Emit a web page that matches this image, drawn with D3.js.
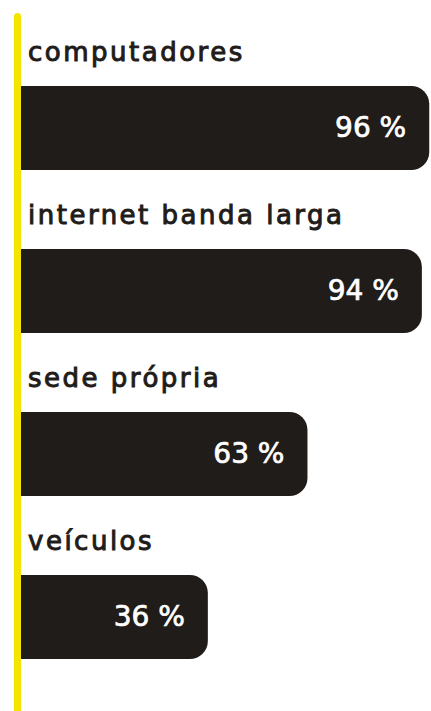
<!DOCTYPE html>
<html lang="pt">
<head>
    <meta charset="UTF-8">
    <title>Infraestrutura</title>
    <script src="https://cdn.jsdelivr.net/npm/d3@7/dist/d3.min.js"></script>
    <style>
        body { margin: 0; background: #fff; }
    </style>
</head>
<body>
    <script>
        // data
        var categories = ["computadores", "internet banda larga", "sede própria", "veículos"];
        var values = [96, 94, 63, 36];
        var valueLabels = ["96 %", "94 %", "63 %", "36 %"];

        var w = 431;
        var h = 711;
        var left = 21;      // bars start right behind the yellow rule
        var barH = 84;
        var r = 18;
        var ink = "#1f1c1a";

        var svg = d3.select("body")
                    .append("svg")
                    .attr("width", w)
                    .attr("height", h);

        // one row = label + bar
        var yScale = d3.scaleBand()
            .domain(categories)
            .range([36, 36 + 163 * categories.length]);

        // bars do not start at zero width in the original
        var xScale = d3.scaleLinear()
            .domain([0, 100])
            .range([75, 444]);

        // right-rounded bar path
        function barPath(x0, y0, x1, hgt) {
            var rr = Math.min(r, (x1 - x0) / 2, hgt / 2);
            return "M" + x0 + "," + y0 +
                   "H" + (x1 - rr) +
                   "A" + rr + "," + rr + " 0 0 1 " + x1 + "," + (y0 + rr) +
                   "V" + (y0 + hgt - rr) +
                   "A" + rr + "," + rr + " 0 0 1 " + (x1 - rr) + "," + (y0 + hgt) +
                   "H" + x0 + "Z";
        }

        var rows = svg.selectAll("g.row")
            .data(categories)
            .enter()
            .append("g")
            .attr("class", "row")
            .attr("transform", function(d) { return "translate(0," + yScale(d) + ")"; });

        rows.append("text")
            .attr("x", 28)
            .attr("y", 25)
            .attr("font-family", "DejaVu Sans")
            .attr("font-size", 26)
            .attr("letter-spacing", 2.5)
            .attr("fill", ink)
            .attr("stroke", ink)
            .attr("stroke-width", 1)
            .text(function(d) { return d; });

        rows.append("path")
            .attr("d", function(d, i) { return barPath(left, 50, xScale(values[i]), barH); })
            .attr("fill", ink);

        rows.append("text")
            .attr("x", function(d, i) { return xScale(values[i]) - 23; })
            .attr("y", 50 + 51)
            .attr("text-anchor", "end")
            .attr("font-family", "DejaVu Sans")
            .attr("font-size", 28)
            .attr("fill", "#fff")
            .attr("stroke", "#fff")
            .attr("stroke-width", 0.7)
            .text(function(d, i) { return valueLabels[i]; });

        // yellow rule on the left
        svg.append("line")
            .attr("x1", 17.5)
            .attr("x2", 17.5)
            .attr("y1", 16.5)
            .attr("y2", h + 10)
            .attr("stroke", "#f4e500")
            .attr("stroke-width", 7)
            .attr("stroke-linecap", "round");
    </script>
</body>
</html>
